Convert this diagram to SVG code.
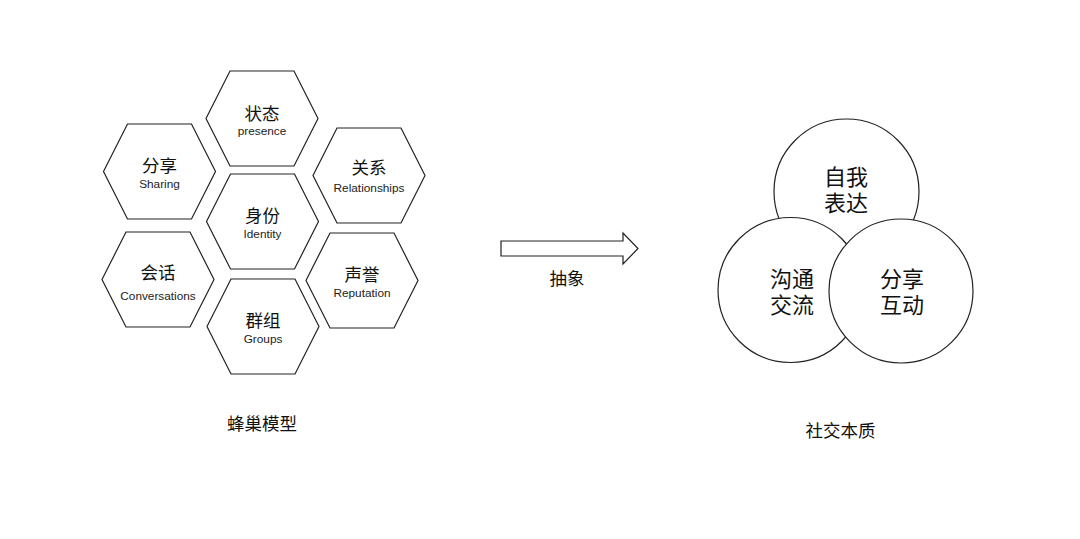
<svg xmlns="http://www.w3.org/2000/svg" width="1080" height="539" viewBox="0 0 1080 539">
<style>
.hex{fill:#fff;stroke:#222;stroke-width:1.2}
.cir{fill:#fff;stroke:#222;stroke-width:1.2}
.zh{font-family:"Noto Sans CJK SC",sans-serif;font-size:17.5px;fill:#111;text-anchor:middle}
.en{font-family:"Liberation Sans","Noto Sans",sans-serif;font-size:11.8px;fill:#222;text-anchor:middle}
.big{font-family:"Noto Sans CJK SC",sans-serif;font-size:22px;fill:#111;text-anchor:middle}
</style>
<defs>
<polygon id="h" points="-56,0 -32,-47.5 32,-47.5 56,0 32,47.5 -32,47.5"/>
</defs>
<rect width="1080" height="539" fill="#fff"/>
<g id="n-zhuangtai" transform="translate(262,118.5)"><use href="#h" class="hex"/><text class="zh" y="1">状态</text><text class="en" y="16.5">presence</text></g>
<g id="n-fenxiang" transform="translate(159.5,171.5)"><use href="#h" class="hex"/><text class="zh" y="0.5">分享</text><text class="en" y="16.3">Sharing</text></g>
<g id="n-guanxi" transform="translate(369,175.5)"><use href="#h" class="hex"/><text class="zh" y="-2">关系</text><text class="en" y="16">Relationships</text></g>
<g id="n-shenfen" transform="translate(262.5,221.5)"><use href="#h" class="hex"/><text class="zh" y="0.5">身份</text><text class="en" y="16.3">Identity</text></g>
<g id="n-huihua" transform="translate(158,279.5)"><use href="#h" class="hex"/><text class="zh" y="-1">会话</text><text class="en" y="20">Conversations</text></g>
<g id="n-shengyu" transform="translate(362,280.5)"><use href="#h" class="hex"/><text class="zh" y="0.5">声誉</text><text class="en" y="16.3">Reputation</text></g>
<g id="n-qunzu" transform="translate(263,326.5)"><use href="#h" class="hex"/><text class="zh" y="0">群组</text><text class="en" y="16">Groups</text></g>
<g id="label-left"><text class="zh" x="262" y="430">蜂巢模型</text></g>
<g id="connectors">
<polygon points="501,241 623,241 623,233 638,248.5 623,264 623,256 501,256" fill="#fff" stroke="#222" stroke-width="1.2"/>
<text class="zh" x="567" y="285">抽象</text>
</g>
<g id="c-top"><circle class="cir" cx="846.5" cy="191.5" r="72.5"/><text class="big"><tspan x="846" y="185">自我</tspan><tspan x="846" y="211">表达</tspan></text></g>
<g id="c-left"><circle class="cir" cx="790.5" cy="290" r="72.5"/><text class="big"><tspan x="792" y="286.5">沟通</tspan><tspan x="792" y="313">交流</tspan></text></g>
<g id="c-right"><circle class="cir" cx="901" cy="291" r="72"/><text class="big"><tspan x="902" y="286.5">分享</tspan><tspan x="902" y="313">互动</tspan></text></g>
<g id="label-right"><text class="zh" x="840.5" y="436.5">社交本质</text></g>
</svg>
